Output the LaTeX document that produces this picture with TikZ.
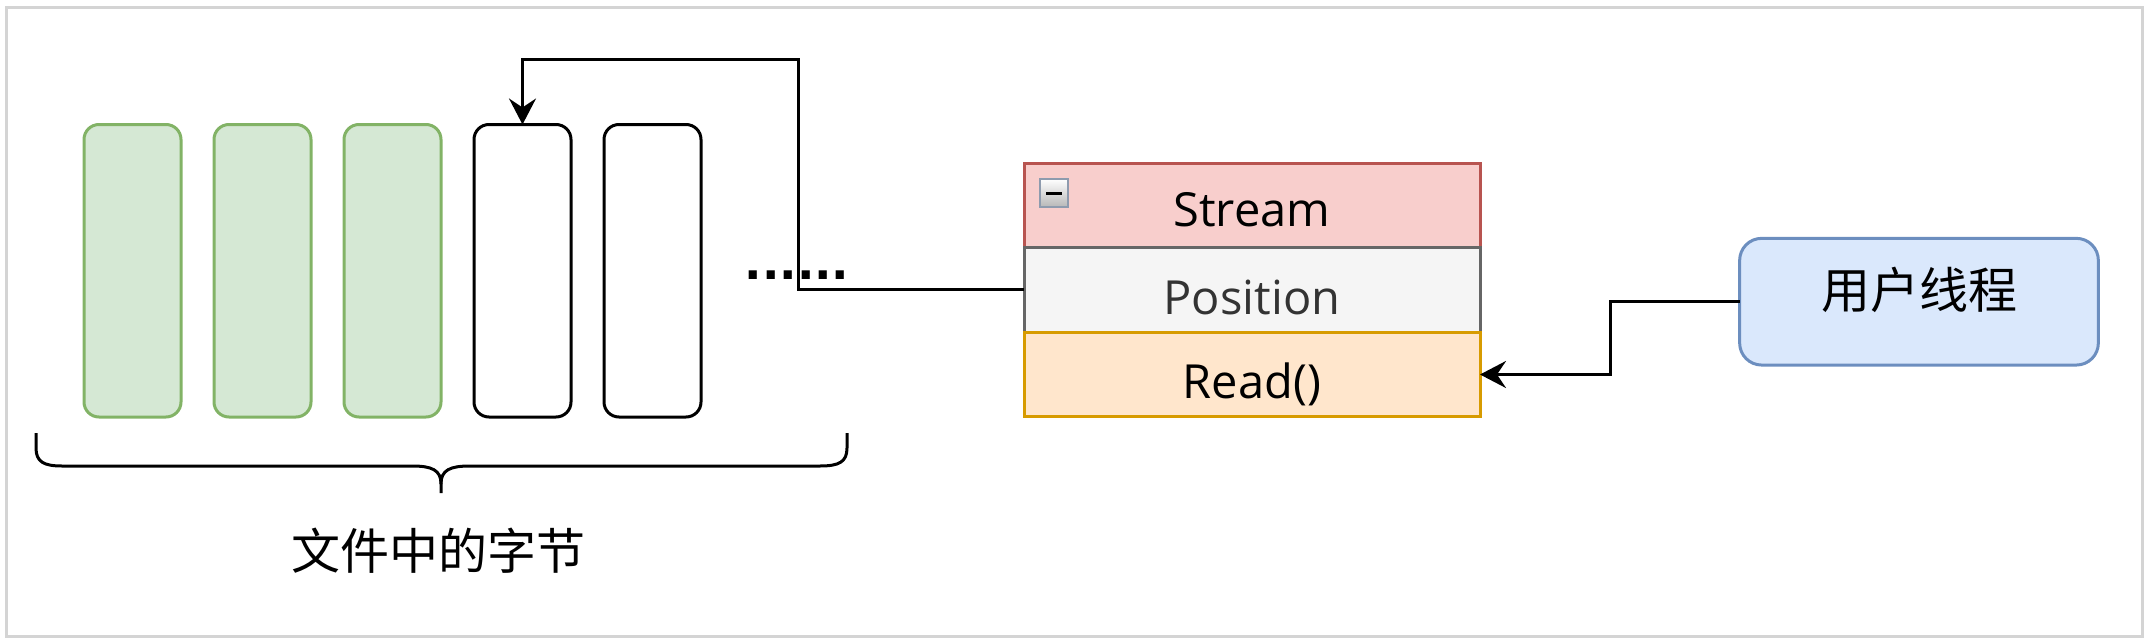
\documentclass[tikz,border=0pt]{standalone}
\usepackage{fontspec}
\setmainfont{Open Sans}
\newfontfamily\cjk{Noto Sans CJK SC}
\newfontfamily\dotfont{DejaVu Sans}
\usetikzlibrary{arrows.meta,calc}
\definecolor{frameg}{HTML}{D4D4D4}
\definecolor{gfill}{HTML}{D5E8D4}
\definecolor{gdraw}{HTML}{82B366}
\definecolor{sfill}{HTML}{F8CECC}
\definecolor{sdraw}{HTML}{B85450}
\definecolor{pfill}{HTML}{F5F5F5}
\definecolor{pdraw}{HTML}{666666}
\definecolor{ptext}{HTML}{333333}
\definecolor{rfill}{HTML}{FFE6CC}
\definecolor{rdraw}{HTML}{D79B00}
\definecolor{ufill}{HTML}{DAE8FC}
\definecolor{udraw}{HTML}{6C8EBF}
\definecolor{togdraw}{HTML}{8E9BAE}
\begin{document}
\begin{tikzpicture}[x=1pt,y=-1pt,
  bytebox/.style={rectangle, rounded corners=15pt, line width=3pt, outer sep=0pt,
    minimum width=97pt, minimum height=292.5pt, anchor=north west, inner sep=0pt},
  greenbyte/.style={bytebox, draw=gdraw, fill=gfill},
  whitebyte/.style={bytebox, draw=black, fill=white},
  cell/.style={rectangle, line width=3pt, outer sep=0pt, inner sep=0pt,
    minimum width=456pt, minimum height=84.4pt, anchor=north west,
    font=\fontsize{47}{56}\selectfont, text depth=0pt},
  arr/.style={line width=3pt, -{Stealth[length=26pt,width=27pt,inset=9pt]}},
  plain/.style={line width=3pt}
]
\useasboundingbox (0,0) rectangle (2148,642);
% outer frame
\draw[frameg, line width=3pt] (6.5,7.5) rectangle (2142.5,636.3);

% bytes
\node[greenbyte] (b1) at (84,124.5) {};
\node[greenbyte] (b2) at (214,124.5) {};
\node[greenbyte] (b3) at (344,124.5) {};
\node[whitebyte] (b4) at (474,124.5) {};
\node[whitebyte] (b5) at (604,124.5) {};

% dots
\node[anchor=base, inner sep=0pt, font=\dotfont\bfseries\fontsize{46}{50}\selectfont] (dots) at (797,279) {......};

% brace
\draw[plain, line join=round] (36,433) -- (36,448) .. controls (36,462) and (44,466) .. (62,466)
  -- (412,466) .. controls (432,466) and (441,470) .. (441,484) -- (441,493);
\draw[plain, line join=round] (441,484) .. controls (441,470) and (450,466) .. (470,466)
  -- (820,466) .. controls (839,466) and (847,462) .. (847,448) -- (847,433);
\node[font=\cjk\fontsize{49}{56}\selectfont, inner sep=0pt] (lbl) at (438.5,551) {文件中的字节};

% stream object
\node[cell, fill=sfill, draw=sdraw, text height=41pt] (stream) at (1024,163.3) {Stream};
\node[cell, fill=pfill, draw=pdraw, text=ptext, text height=50pt] (pos) at (1024,247.7) {Position};
\node[cell, fill=rfill, draw=rdraw, text height=47pt] (read) at (1024,332.3) {Read()};

% toggle icon
\node[rectangle, draw=togdraw, line width=2.5pt, top color=white, bottom color=black!28,
  minimum width=28pt, minimum height=28pt, inner sep=0pt, outer sep=0pt] (tog) at (1054,193) {};
\draw[line width=3pt] ($(tog.center)+(-8,0)$) -- ($(tog.center)+(8,0)$);

% user thread
\node[rectangle, rounded corners=22pt, draw=udraw, fill=ufill, line width=3pt, outer sep=0pt,
  minimum width=358.7pt, minimum height=126.7pt, inner sep=0pt,
  font=\cjk\fontsize{49}{56}\selectfont, text height=40pt, text depth=26pt] (user) at (1919,301.7) {用户线程};

% connectors
\coordinate (j1) at (798,60);
\draw[arr] (pos.west) -| (j1) -| (b4.north);
\coordinate (j2) at (1610,0);
\draw[arr] (user.west) -- (user.west -| j2) |- (read.east);
\end{tikzpicture}
\end{document}
